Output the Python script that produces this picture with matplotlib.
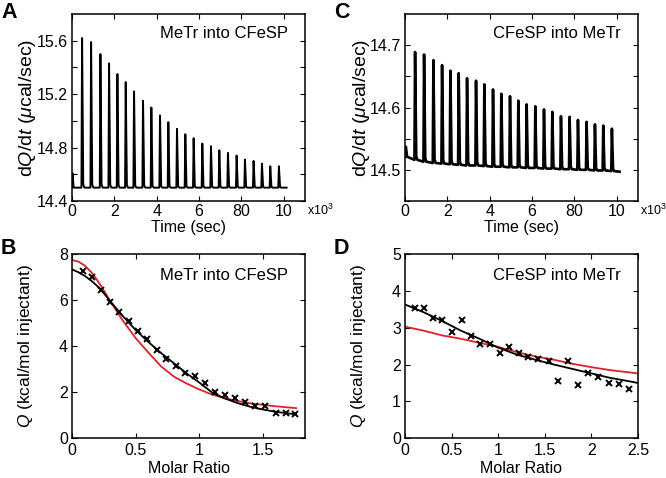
import numpy as np
import matplotlib

matplotlib.use("Agg")
import matplotlib.pyplot as plt

# ---- thermograms (A, C): injection times (s) and spike tops (ucal/sec)
inj_t = [456, 881, 1321, 1730, 2123, 2516, 2909, 3333, 3726, 4135, 4528, 4937,
         5330, 5723, 6132, 6541, 6934, 7343, 7752, 8145, 8553, 8947, 9340, 9748]
a_peak = [15.62, 15.59, 15.50, 15.43, 15.35, 15.29, 15.22, 15.15, 15.10, 15.04,
          14.99, 14.94, 14.90, 14.87, 14.83, 14.81, 14.78, 14.76, 14.74, 14.71,
          14.70, 14.68, 14.66, 14.66]
a_start = (20, 14.61)          # small initial spike
a_base = 14.50
c_peak = [14.689, 14.685, 14.676, 14.668, 14.659, 14.655, 14.647, 14.643, 14.637,
          14.629, 14.622, 14.618, 14.611, 14.605, 14.602, 14.597, 14.593, 14.586,
          14.585, 14.580, 14.577, 14.573, 14.571, 14.566]
c_start = (40, 14.537)
# baseline before each injection, plus start and end
c_base = [14.521, 14.516, 14.513, 14.511, 14.510, 14.509, 14.508, 14.507, 14.507,
          14.506, 14.505, 14.505, 14.504, 14.504, 14.503, 14.503, 14.502, 14.502,
          14.501, 14.501, 14.500, 14.500, 14.499, 14.499, 14.498, 14.497]
t_end = 10130
time_ticks = [0, 2000, 4000, 6000, 8000, 10000]
time_labels = ["0", "2", "4", "6", "80", "10"]

# ---- integrated heats (B, D)
b_x = [0.084, 0.158, 0.224, 0.301, 0.372, 0.446, 0.518, 0.589, 0.665, 0.740, 0.814,
       0.888, 0.966, 1.045, 1.122, 1.200, 1.279, 1.358, 1.437, 1.516, 1.600, 1.677, 1.754]
b_q = [7.27, 7.01, 6.45, 5.93, 5.50, 5.09, 4.66, 4.30, 3.84, 3.45, 3.16,
       2.82, 2.69, 2.38, 2.02, 1.87, 1.74, 1.59, 1.41, 1.40, 1.10, 1.10, 1.07]
b_fit_x = [0.0, 0.05, 0.1, 0.15, 0.2, 0.25, 0.3, 0.4, 0.5, 0.6, 0.7, 0.8, 0.9, 1.0,
           1.1, 1.2, 1.3, 1.4, 1.5, 1.6, 1.7, 1.76]
b_fit_black = [7.33, 7.21, 7.05, 6.85, 6.60, 6.30, 5.95, 5.30, 4.70, 4.18, 3.70, 3.26,
               2.82, 2.42, 1.99, 1.73, 1.53, 1.37, 1.25, 1.15, 1.08, 1.04]
b_fit_red = [7.74, 7.67, 7.50, 7.22, 6.85, 6.42, 5.95, 5.10, 4.35, 3.72, 3.12, 2.68,
             2.38, 2.12, 1.90, 1.74, 1.62, 1.52, 1.45, 1.39, 1.34, 1.31]

d_x = [0.107, 0.204, 0.304, 0.401, 0.501, 0.608, 0.705, 0.805, 0.910, 1.014, 1.120,
       1.220, 1.325, 1.432, 1.540, 1.645, 1.752, 1.858, 1.967, 2.074, 2.186, 2.295, 2.407]
d_q = [3.54, 3.54, 3.27, 3.20, 2.88, 3.20, 2.77, 2.55, 2.55, 2.32, 2.47,
       2.32, 2.21, 2.15, 2.11, 1.56, 2.10, 1.45, 1.76, 1.67, 1.51, 1.47, 1.33]
d_fit_x = [0.0, 0.2, 0.4, 0.6, 0.8, 1.0, 1.2, 1.4, 1.6, 1.8, 2.0, 2.2, 2.4, 2.5]
d_fit_black = [3.63, 3.42, 3.18, 2.92, 2.70, 2.46, 2.27, 2.13, 2.00, 1.88, 1.76, 1.64,
               1.55, 1.50]
d_fit_red = [3.03, 2.92, 2.79, 2.70, 2.59, 2.48, 2.34, 2.22, 2.13, 2.02, 1.93, 1.85,
             1.79, 1.76]

RED = "#e0202a"

plt.rcParams.update({
    "font.family": ["Liberation Sans", "DejaVu Sans"], "font.size": 11.5,
    "mathtext.fontset": "custom", "mathtext.rm": "Liberation Sans",
    "mathtext.it": "Liberation Sans:italic",
    "axes.linewidth": 1.1,
    "xtick.direction": "in", "ytick.direction": "in",
    "xtick.top": True, "ytick.right": True,
    "xtick.major.size": 3.5, "ytick.major.size": 3.5,
    "xtick.major.pad": 2.5, "ytick.major.pad": 3,
    "xtick.labelsize": 11.5, "ytick.labelsize": 11.5,
})


def spikes(t0, p0, base, peaks):
    """Build the thermogram trace: a narrow spike at every injection."""
    base = np.broadcast_to(np.asarray(base, float), (len(peaks) + 2,))
    xs, ys = [0, t0, t0 + 60], [base[0], p0, base[0]]
    for i, (t, p) in enumerate(zip(inj_t, peaks)):
        b = base[i + 1]
        xs += [t - 10, t + 20, t + 75, t + 130]
        ys += [b, p, b + 0.004 * (p - b) / 0.2 + 0.002, b]
    xs.append(t_end)
    ys.append(base[-1])
    return np.array(xs), np.array(ys)


fig = plt.figure(figsize=(6.66, 4.78), dpi=100)
W, H = 666, 478


def add_ax(l, t, r, b):
    return fig.add_axes([l / W, 1 - b / H, (r - l) / W, (b - t) / H])


axA = add_ax(72, 14, 305, 201)
axC = add_ax(405, 14, 638, 201)
axB = add_ax(72, 254, 305, 438.3)
axD = add_ax(405, 254, 638, 438.3)

# A
x, y = spikes(*a_start, a_base, a_peak)
axA.plot(x, y, color="k", lw=1.4)
axA.set_xlim(0, 11000)
axA.set_ylim(14.4, 15.8)
axA.set_yticks([14.4, 14.6, 14.8, 15.0, 15.2, 15.4, 15.6])
axA.set_yticklabels(["14.4", "", "14.8", "", "15.2", "", "15.6"])
axA.text(0.925, 0.895, "MeTr into CFeSP", transform=axA.transAxes, ha="right",
         va="center", fontsize=12)

# C
x, y = spikes(*c_start, c_base, c_peak)
axC.plot(x, y, color="k", lw=1.9)
axC.set_xlim(0, 11000)
axC.set_ylim(14.45, 14.75)
axC.set_yticks([14.45, 14.5, 14.55, 14.6, 14.65, 14.7])
axC.set_yticklabels(["", "14.5", "", "14.6", "", "14.7"])
axC.text(0.925, 0.895, "CFeSP into MeTr", transform=axC.transAxes, ha="right",
         va="center", fontsize=12)

for ax, lx in ((axA, -0.146), (axC, -0.142)):
    ax.set_xticks(time_ticks)
    ax.set_xticklabels(time_labels)
    ax.set_xlabel("Time (sec)", fontsize=11.5)
    ax.xaxis.set_label_coords(0.5, -0.1)
    ax.xaxis.label.set_va("top")
    ax.set_ylabel(r"d$\it{Q}$/d$\it{t}$ ($\mu$cal/sec)", fontsize=14)
    ax.yaxis.set_label_coords(lx, 0.5)
    ax.text(1.01, -0.01, r"x10$^3$", transform=ax.transAxes, ha="left", va="top",
            fontsize=9)

# B
axB.plot(b_fit_x, b_fit_red, color=RED, lw=1.3)
axB.plot(b_fit_x, b_fit_black, color="k", lw=1.3)
axB.plot(b_x, b_q, "x", color="k", ms=5, mew=1.4)
axB.set_xlim(0, 1.83)
axB.set_ylim(0, 8)
axB.set_xticks([0, 0.5, 1, 1.5])
axB.set_xticklabels(["0", "0.5", "1", "1.5"])
axB.set_yticks([0, 2, 4, 6, 8])
axB.text(0.925, 0.885, "MeTr into CFeSP", transform=axB.transAxes, ha="right",
         va="center", fontsize=12)

# D
axD.plot(d_fit_x, d_fit_red, color=RED, lw=1.3)
axD.plot(d_fit_x, d_fit_black, color="k", lw=1.3)
axD.plot(d_x, d_q, "x", color="k", ms=5, mew=1.4)
axD.set_xlim(0, 2.5)
axD.set_ylim(0, 5)
axD.set_xticks([0, 0.5, 1, 1.5, 2, 2.5])
axD.set_xticklabels(["0", "0.5", "1", "1.5", "2", "2.5"])
axD.set_yticks([0, 1, 2, 3, 4, 5])
axD.text(0.925, 0.885, "CFeSP into MeTr", transform=axD.transAxes, ha="right",
         va="center", fontsize=12)

for ax in (axB, axD):
    ax.tick_params(axis="x", pad=3.5)
    ax.set_xlabel("Molar Ratio", fontsize=11.5)
    ax.xaxis.set_label_coords(0.5, -0.125)
    ax.xaxis.label.set_va("top")
    ax.set_ylabel(r"$\it{Q}$ (kcal/mol injectant)", fontsize=12.5)
    ax.yaxis.set_label_coords(-0.159, 0.5)

for letter, (px, py) in zip("ACBD", [(1, 13), (334, 13), (1, 248), (334, 248)]):
    fig.text(px / W, 1 - py / H, letter, fontsize=15.5, fontweight="bold",
             ha="left", va="center")

fig.savefig("out.png", dpi=100)
